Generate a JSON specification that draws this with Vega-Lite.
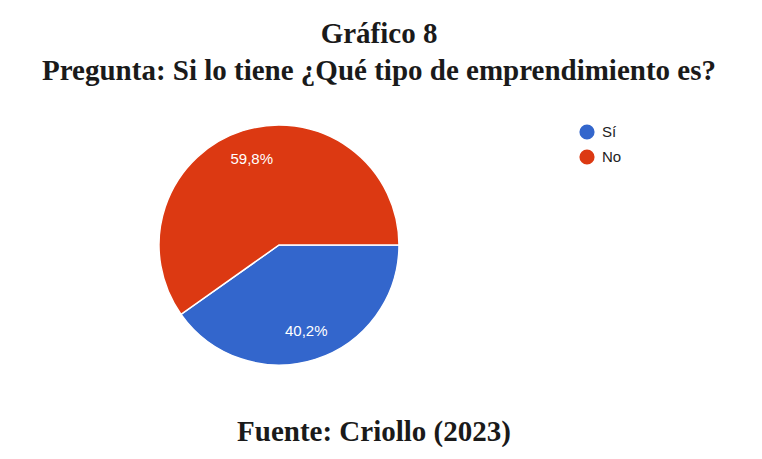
{
  "$schema": "https://vega.github.io/schema/vega-lite/v6.json",
  "padding": {"top": 20, "left": 0, "right": 0, "bottom": 0},
  "background": "white",
  "title": {
    "text": ["Gráfico 8", "Pregunta: Si lo tiene ¿Qué tipo de emprendimiento es?"],
    "font": "Liberation Serif",
    "fontSize": 29,
    "fontWeight": "bold",
    "color": "#1a1a1a",
    "lineHeight": 37,
    "anchor": "middle",
    "frame": "group",
    "dx": 100,
    "offset": 19
  },
  "vconcat": [
    {
      "width": 558,
      "height": 280,
      "title": {
        "text": "Fuente: Criollo (2023)",
        "orient": "bottom",
        "font": "Liberation Serif",
        "fontSize": 29,
        "fontWeight": "bold",
        "color": "#1a1a1a",
        "anchor": "middle",
        "dx": 95,
        "offset": 33
      },
      "data": {
        "values": [
          {"respuesta": "Sí", "porcentaje": 40.2, "etiqueta": "40,2%", "orden": 1},
          {"respuesta": "No", "porcentaje": 59.8, "etiqueta": "59,8%", "orden": 2}
        ]
      },
      "encoding": {
        "theta": {"field": "porcentaje", "type": "quantitative", "stack": true, "scale": {"range": [1.5707963, 7.8539816]}},
        "order": {"field": "orden", "type": "quantitative"}
      },
      "layer": [
        {
          "mark": {"type": "arc", "outerRadius": 120, "stroke": "white", "strokeWidth": 1.5},
          "encoding": {
            "color": {
              "field": "respuesta",
              "type": "nominal",
              "sort": ["Sí", "No"],
              "scale": {"domain": ["Sí", "No"], "range": ["#3366CC", "#DC3912"]},
              "legend": {
                "title": null,
                "orient": "none",
                "legendX": 579,
                "legendY": 19,
                "symbolType": "circle",
                "symbolSize": 230,
                "symbolStrokeWidth": 0,
                "labelFont": "Liberation Sans",
                "labelFontSize": 15,
                "labelColor": "#222222",
                "rowPadding": 9,
                "labelOffset": 7
              }
            }
          }
        },
        {
          "mark": {"type": "text", "radius": 90, "font": "Liberation Sans", "fontSize": 15, "fill": "white"},
          "encoding": {"text": {"field": "etiqueta", "type": "nominal"}}
        }
      ]
    }
  ],
  "config": {"view": {"stroke": null}}
}
